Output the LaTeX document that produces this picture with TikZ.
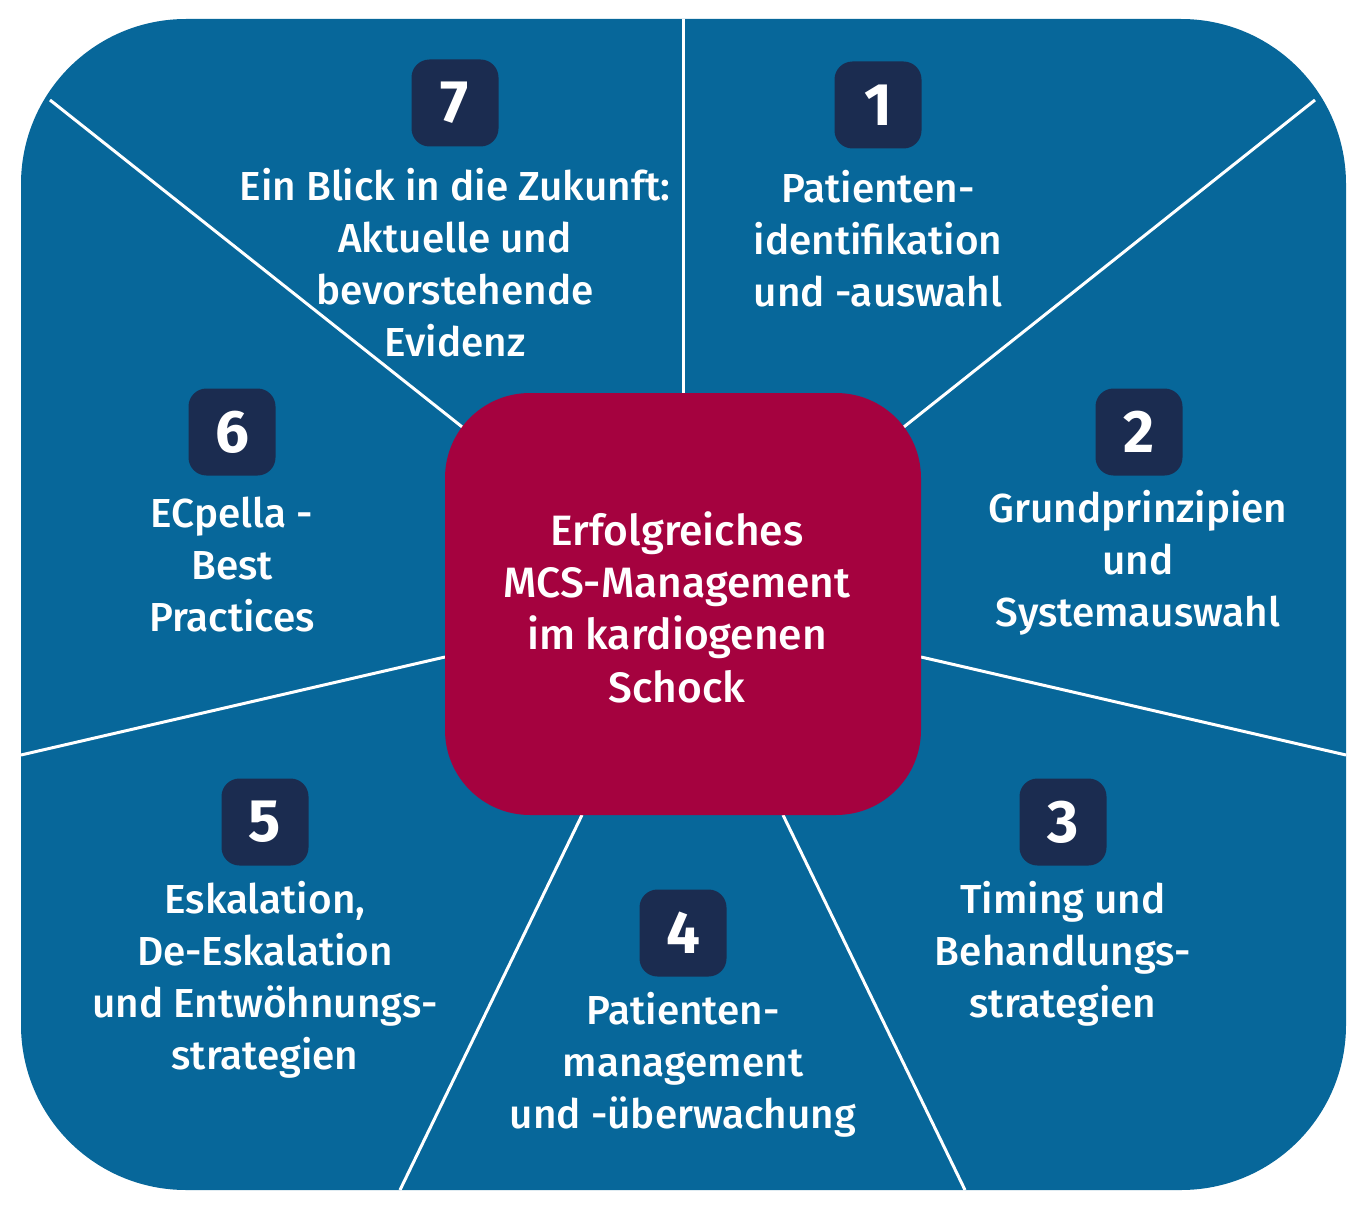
\documentclass[tikz,border=0pt]{standalone}
\usepackage{fontspec}
\setmainfont{Fira Sans}[UprightFont=* Medium, BoldFont=* Bold]
\definecolor{bluebg}{HTML}{07679A}
\definecolor{crimson}{HTML}{A5023F}
\definecolor{navy}{HTML}{1B2C50}
\tikzset{
  sector/.style={draw=white, line width=3pt},
  badge/.style={fill=navy, rounded corners=18pt, minimum width=87pt, minimum height=87pt, text=white, font=\fontsize{60}{60}\selectfont\bfseries, inner sep=0pt},
  label/.style={text=white, align=center, font=\fontsize{40.5}{52}\selectfont, inner sep=0pt},
  clabel/.style={label, font=\fontsize{42.5}{52.3}\selectfont},
}
\begin{document}
\begin{tikzpicture}[x=1pt,y=-1pt]
\useasboundingbox (0,0) rectangle (1366,1209);
\fill[bluebg, rounded corners=165pt] (21,19) rectangle (1346,1190);
% dividing lines
\coordinate (t0) at (683,393);   \coordinate (t1) at (683,19);
\coordinate (ur0) at (900,430);  \coordinate (ur1) at (1315,100);
\coordinate (r0) at (921,657);   \coordinate (r1) at (1346,755);
\coordinate (lr0) at (783,815);  \coordinate (lr1) at (965,1190);
\coordinate (ll0) at (582,815);  \coordinate (ll1) at (400,1190);
\coordinate (l0) at (445,657);   \coordinate (l1) at (21,755);
\coordinate (ul0) at (466,430);  \coordinate (ul1) at (50,100);
\foreach \a in {t,ur,r,lr,ll,l,ul}{\draw[sector] (\a0) -- (\a1);}
% center
\node[fill=crimson, rounded corners=85pt, minimum width=476pt, minimum height=422pt, inner sep=0pt] (center) at (683,604) {};
\node[clabel] (ctext) at (677,607) {Erfolgreiches\\MCS-Management\\im kardiogenen\\Schock};
% badges
\node[badge] (b1) at (878,105) {1};
\node[badge] (b2) at (1139,432) {2};
\node[badge] (b3) at (1063,822) {3};
\node[badge] (b4) at (683,933) {4};
\node[badge] (b5) at (265,822) {5};
\node[badge] (b6) at (232,432) {6};
\node[badge] (b7) at (455,103) {7};
% labels
\node[label] (l7) at (455,263) {Ein Blick in die Zukunft:\\Aktuelle und\\bevorstehende\\Evidenz};
\node[label] (lab1) at (878,239) {Patienten-\\identifikation\\und -auswahl};
\node[label] (lab2) at (1138,563) {Grundprinzipien\\und\\Systemauswahl};
\node[label] (lab6) at (232,565) {ECpella -\\Best\\Practices};
\node[label] (lab3) at (1063,954) {Timing und\\Behandlungs-\\strategien};
\node[label] (lab5) at (265,980) {Eskalation,\\De-Eskalation\\und Entwöhnungs-\\strategien};
\node[label] (lab4) at (683,1065) {Patienten-\\management\\und -überwachung};
\end{tikzpicture}
\end{document}
